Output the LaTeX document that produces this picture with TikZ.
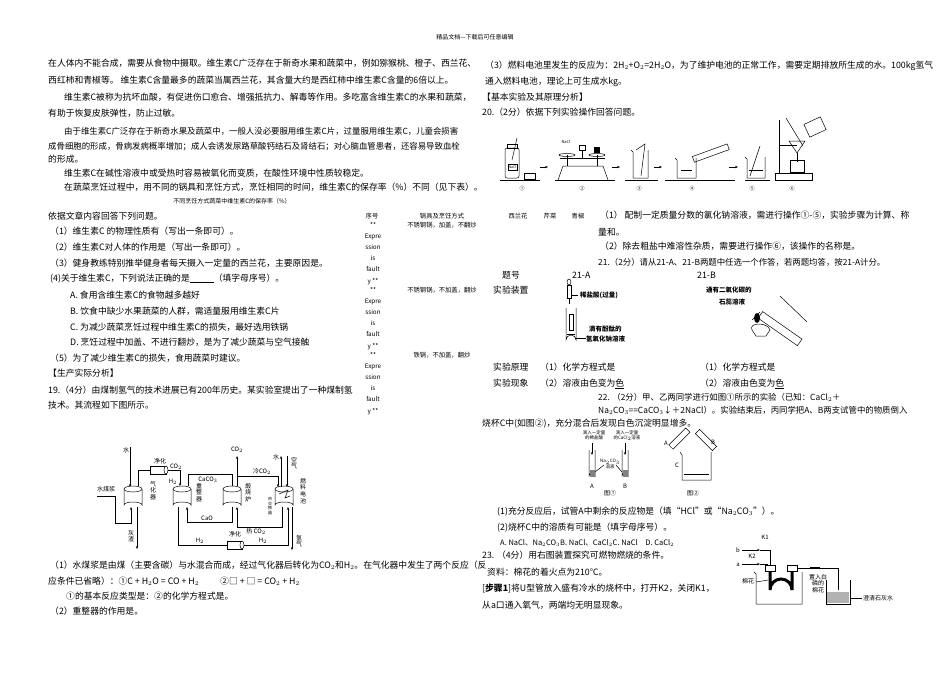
\documentclass[tikz,border=0pt]{standalone}
\usepackage{fontspec}
\setmainfont{Noto Sans CJK SC}
\usetikzlibrary{arrows.meta,shapes.geometric}
\begin{document}
\begin{tikzpicture}[x=1pt,y=-1pt,
 tx/.style={anchor=base west,inner sep=0pt,font=\fontsize{8.8}{10}\selectfont},
 tn/.style={anchor=base west,inner sep=0pt,font=\fontsize{8.4}{10}\selectfont},
 sm/.style={anchor=base,inner sep=0pt,font=\fontsize{6}{7}\selectfont},
 vt/.style={anchor=north,inner sep=0pt,font=\fontsize{6}{6.6}\selectfont,align=center},
 tb/.style={anchor=base,inner sep=0pt,font=\fontsize{6.3}{7}\selectfont},
 ln/.style={line width=0.5pt},
 ar/.style={line width=0.5pt,-{Stealth[length=3pt,width=2.4pt]}},
 gl/.style={line width=0.5pt}]
\useasboundingbox (0,0) rectangle (950,672);
\fill[white] (0,0) rectangle (950,672);
\node[sm] (hd) at (475,39) {精品文档---下载后可任意编辑};
% ---------- left column text
\node[tx] (l1) at (48,66) {在人体内不能合成，需要从食物中摄取。维生素C广泛存在于新奇水果和蔬菜中，例如猕猴桃、橙子、西兰花、};
\node[tx] (l2) at (48,83) {西红柿和青椒等。 维生素C含量最多的蔬菜当属西兰花，其含量大约是西红柿中维生素C含量的6倍以上。};
\node[tx] (l3) at (64,100) {维生素C被称为抗坏血酸，有促进伤口愈合、增强抵抗力、解毒等作用。多吃富含维生素C的水果和蔬菜，};
\node[tx] (l4) at (48,116) {有助于恢复皮肤弹性，防止过敏。};
\node[tn] (l5) at (64,134) {由于维生素C广泛存在于新奇水果及蔬菜中，一般人没必要服用维生素C片，过量服用维生素C，儿童会损害};
\node[tn] (l6) at (48,149) {成骨细胞的形成，骨病发病概率增加；成人会诱发尿路草酸钙结石及肾结石；对心脑血管患者，还容易导致血栓};
\node[tx] (l7) at (48,162) {的形成。};
\node[tx] (l8) at (64,176) {维生素C在碱性溶液中或受热时容易被氧化而变质，在酸性环境中性质较稳定。};
\node[tx] (l9) at (64,190) {在蔬菜烹饪过程中，用不同的锅具和烹饪方式，烹饪相同的时间，维生素C的保存率（\%）不同（见下表）。};
\node[sm] (cap) at (232,203) {不同烹饪方式蔬菜中维生素C的保存率（\%）};
\node[tx] (q0) at (48,219) {依据文章内容回答下列问题。};
\node[tx] (q1) at (50,234) {（1）维生素C 的物理性质有（写出一条即可）。};
\node[tx] (q2) at (50,250) {（2）维生素C对人体的作用是（写出一条即可）。};
\node[tx] (q3) at (50,266) {（3）健身教练特别推举健身者每天摄入一定量的西兰花，主要原因是。};
\node[tx] (q4) at (50,281) {(4)关于维生素C，下列说法正确的是\underline{\hspace{24pt}}（填字母序号）。};
\node[tx] (qa) at (70,298) {A. 食用含维生素C的食物越多越好};
\node[tx] (qb) at (70,314) {B. 饮食中缺少水果蔬菜的人群，需适量服用维生素C片};
\node[tx] (qc) at (70,330) {C. 为减少蔬菜烹饪过程中维生素C的损失，最好选用铁锅};
\node[tx] (qd) at (70,345) {D. 烹饪过程中加盖、不进行翻炒，是为了减少蔬菜与空气接触};
\node[tx] (q5) at (50,361) {（5）为了减少维生素C的损失，食用蔬菜时建议。};
\node[tx] (s1) at (48,376) {【生产实际分析】};
\node[tx] (q19) at (48,393) {19.（4分）由煤制氢气的技术进展已有200年历史。某实验室提出了一种煤制氢};
\node[tx] (q19b) at (48,408) {技术。其流程如下图所示。};
% ---------- table
\node[tb] (th1) at (372,218) {序号};
\node[tb] (th2) at (442,218) {锅具及烹饪方式};
\node[tb] (th3) at (518,218) {西兰花};
\node[tb] (th4) at (550,218) {芹菜};
\node[tb] (th5) at (578,218) {青椒};
\foreach \b/\t in {227/{不锈钢锅，加盖，不翻炒},292/{不锈钢锅，不加盖，翻炒},357/{铁锅，不加盖，翻炒}}{
 \node[tb] at (373,\b) {**};
 \node[tb] at (373,\b+11.2) {Expre};
 \node[tb] at (373,\b+22.4) {ssion};
 \node[tb] at (373,\b+33.6) {is};
 \node[tb] at (373,\b+44.8) {fault};
 \node[tb] at (373,\b+56) {y **};
 \node[tb] at (442,\b) {\t};
}
% ---------- flow diagram
\tikzset{cyl/.pic={\draw[ln,fill=white] (-9,0) -- (-9,16) arc[start angle=180,end angle=360,x radius=9,y radius=3] -- (9,0);
 \draw[ln,fill=white] (0,0) ellipse[x radius=9,y radius=3];}}
\pic at (133,489) {cyl};
\pic at (182,489) {cyl};
\pic at (232,489) {cyl};
\pic at (284,489) {cyl};
\draw[ln] (279,494) -- (288,490) -- (285,498) -- (290,496);
\node[vt] (v1) at (153,481) {气\\化\\器};
\node[vt] (v2) at (199,483) {重\\整\\器};
\node[vt] (v3) at (248,483) {煅\\烧\\炉};
\node[vt] (v4) at (303,478) {燃\\料\\电\\池};
\node[vt,font=\fontsize{4}{4.6}\selectfont] (v5) at (270,497) {热\\交\\换\\器};
\draw[ar] (130,447) -- (130,487);
\node[sm] (w1) at (126,452) {水};
\draw[ar] (97,496) -- (115,496) -- (115,523) -- (131,523) -- (131,507);
\node[sm] (w2) at (106,491) {水煤浆};
\draw[ar] (137,507) -- (137,549);
\node[vt] (w3) at (131,530) {灰\\渣};
\draw[ln] (138,486) -- (138,470) -- (150,470);
\draw[ln,fill=white] (150,466) rectangle (166,474);
\draw[ln,fill=white] (166,470) ellipse[x radius=2,y radius=4];
\node[sm] (w4) at (160,463) {净化};
\node[sm] (w5) at (176,468) {CO$_2$};
\draw[ar] (168,470) -- (180,470) -- (180,486);
\node[sm] (w6) at (173,483) {H$_2$};
\draw[ln] (188,486) -- (188,474) -- (232,474) -- (232,486);
\node[sm] (w7) at (208,481) {CaCO$_3$};
\draw[ar] (232,507) -- (232,522) -- (187,522) -- (187,507);
\node[sm] (w8) at (207,520) {CaO};
\draw[ar] (237,486) -- (237,456);
\node[sm] (w9) at (237,451) {CO$_2$};
\draw[ar] (237,476) -- (278,476) -- (278,487);
\node[sm] (w10) at (262,473) {冷CO$_2$};
\draw[ar] (281,487) -- (281,456);
\node[sm] (w11) at (276,459) {水};
\draw[ar] (287,456) -- (287,487);
\node[vt] (w12) at (294,457) {空\\气};
\draw[ar] (282,507) -- (282,527) -- (237,527) -- (237,507);
\node[sm] (w13) at (256,533) {热 CO$_2$};
\draw[ln] (178,507) -- (178,545) -- (227,545);
\draw[ln,fill=white] (227,541) rectangle (242,549);
\draw[ln,fill=white] (242,545) ellipse[x radius=2,y radius=4];
\node[sm] (w14) at (200,542) {H$_2$};
\node[sm] (w15) at (235,536) {净化};
\node[sm] (w16) at (263,542) {H$_2$};
\draw[ar] (244,545) -- (288,545) -- (288,507);
\draw[ar] (292,507) -- (292,550);
\node[vt] (w17) at (299,535) {氢\\气};
\node[tx] (b1) at (50,568) {（1）水煤浆是由煤（主要含碳）与水混合而成，经过气化器后转化为CO$_2$和H$_2$。在气化器中发生了两个反应（反};
\node[tx] (b2) at (48,584) {应条件已省略）：①C + H$_2$O = CO + H$_2$};
\node[tx] (b3) at (220,584) {②□ + □ = CO$_2$ + H$_2$};
\node[tx] (b4) at (66,599) {①的基本反应类型是：②的化学方程式是。};
\node[tx] (b5) at (50,614) {（2）重整器的作用是。};
% ---------- right column
\node[tx] (r1) at (485,68) {（3）燃料电池里发生的反应为：2H$_2$+O$_2$=2H$_2$O，为了维护电池的正常工作，需要定期排放所生成的水。100kg氢气};
\node[tx] (r2) at (485,84) {通入燃料电池，理论上可生成水kg。};
\node[tx] (r3) at (482,100) {【基本实验及其原理分析】};
\node[tx] (r4) at (482,115) {20.（2分）依据下列实验操作回答问题。};
% experiment figure
\draw[line width=1pt] (500,180) -- (540,180) (555,180) -- (615,180) (625,180) -- (658,180) (665,180) -- (735,180) (745,180) -- (770,180);
\draw[gl,rounded corners=2pt] (505,178) rectangle (519,148); \draw[gl] (507,148) rectangle (517,144);
\draw[gl] (508,170) rectangle (517,164); \node[font=\fontsize{3.5}{4}\selectfont] at (512.5,167.5) {NaCl};
\draw[gl] (512,160) -- (517,138);
\draw[gl] (524,179) rectangle (535,173);
\node[font=\fontsize{5}{5}\selectfont] (n1) at (522,189) {①};
\draw[ar] (540,167) -- (548,167);
\draw[gl] (558,180) -- (563,166) -- (603,166) -- (608,180);
\draw[gl] (560,158) -- (605,158); \draw[gl] (582,158) -- (582,150); \draw[gl] (579,150) rectangle (585,145);
\draw[gl] (567,155) ellipse[x radius=8,y radius=1.5] (597,155) ellipse[x radius=8,y radius=1.5];
\fill (594,153) rectangle (600,147);
\node[font=\fontsize{4}{4}\selectfont] at (566,142) {NaCl};
\draw[gl] (567,155) -- (567,166) (597,155) -- (597,166);
\node[font=\fontsize{5}{5}\selectfont] (n2) at (582,189) {②};
\draw[ar] (612,167) -- (620,167);
\draw[gl] (631,150) -- (633,152) -- (633,178) -- (648,178) -- (648,150);
\draw[gl] (636,150) -- (645,144) -- (641,176);
\node[font=\fontsize{5}{5}\selectfont] (n3) at (639,189) {③};
\draw[ar] (654,167) -- (662,167);
\draw[gl] (675,158) -- (677,160) -- (677,178) -- (696,178) -- (696,158);
\draw[gl] (681,170) -- (692,170);
\draw[gl,rotate around={20:(700,157)}] (693,154) rectangle (730,160);
\node[font=\fontsize{5}{5}\selectfont] (n4) at (692,189) {④};
\draw[ar] (729,167) -- (738,167);
\draw[gl] (745,157) -- (747,159) -- (747,178) -- (765,178) -- (765,157);
\draw[gl] (749,170) -- (763,170); \draw[gl] (750,176) -- (760,146);
\node[font=\fontsize{5}{5}\selectfont] (n5) at (752,189) {⑤};
\draw[gl] (775,180) rectangle (812,173);
\draw[gl] (779,173) -- (779,120); \draw[gl] (779,145) -- (797,145);
\draw[gl] (789,141) -- (805,141) -- (797,153) -- cycle; \draw[gl] (797,153) -- (797,162);
\draw[gl] (790,160) rectangle (804,172);
\draw[gl] (786,118) -- (803,146);
\draw[gl,rotate around={25:(815,127)}] (806,120) rectangle (824,134);
\node[font=\fontsize{5}{5}\selectfont] (n6) at (792,189) {⑥};
\node[tx] (r5) at (600,218) {（1） 配制一定质量分数的氯化钠溶液，需进行操作①-⑤，实验步骤为计算、称};
\node[tx] (r6) at (598,235) {量和。};
\node[tx] (r7) at (600,249) {（2）除去粗盐中难溶性杂质，需要进行操作⑥，该操作的名称是。};
\node[tn] (r8) at (598,265) {21.（2分）请从21-A、21-B两题中任选一个作答，若两题均答，按21-A计分。};
\node[tx] (r9) at (502,278) {题号};
\node[tx] (r10) at (572,278) {21-A};
\node[tx] (r11) at (697,278) {21-B};
\node[tx] (r12) at (493,293) {实验装置};
% 21-A apparatus
\draw[gl] (569,282) ellipse[x radius=2,y radius=3]; \draw[gl] (567,285) rectangle (571,298); \draw[gl] (569,298) -- (569,304);
\draw[gl] (566,308) -- (566,340) arc[start angle=180,end angle=360,radius=5] -- (576,308);
\draw[gl] (569,314) rectangle (573,330);
\draw[gl] (567,334) -- (575,334);
\draw[gl] (572,295) -- (578,295);
\node[tx,font=\fontsize{6.5}{7}\selectfont\bfseries] (a1) at (580,297) {稀盐酸(过量)};
\node[tx,font=\fontsize{6.5}{7}\selectfont\bfseries] (a2) at (589,331) {滴有酚酞的};
\node[tx,font=\fontsize{6.5}{7}\selectfont\bfseries] (a3) at (586,341) {氢氧化钠溶液};
\draw[gl] (576,338) -- (586,338);
% 21-B apparatus
\node[tx,font=\fontsize{6.5}{7}\selectfont\bfseries] (b6) at (706,292) {通有二氧化碳的};
\node[tx,font=\fontsize{6.5}{7}\selectfont\bfseries] (b7) at (719,304) {石蕊溶液};
\draw[gl,rotate around={-35:(762,316)}] (760,312) rectangle (808,320);
\draw[gl] (780,296) -- (807,322);
\draw[gl] (752,320) -- (760,312);
\fill (757,318) ellipse[x radius=3,y radius=5];
\draw[gl] (752,330) .. controls (748,322) and (768,322) .. (770,330) -- (766,336) -- (756,336) -- cycle;
\node[tx] (r13) at (493,370) {实验原理};
\node[tx] (r14) at (540,370) {（1）化学方程式是};
\node[tx] (r15) at (700,370) {（1）化学方程式是};
\node[tx] (r16) at (493,386) {实验现象};
\node[tx] (r17) at (540,386) {（2）溶液由色变为\underline{色}};
\node[tx] (r18) at (700,386) {（2）溶液由色变为\underline{色}};
\node[tn] (r19) at (598,400) {22. （2分）甲、乙两同学进行如图①所示的实验（已知：CaCl$_2$＋};
\node[tn] (r20) at (598,413) {Na$_2$CO$_3$==CaCO$_3$↓＋2NaCl）。实验结束后，丙同学把A、B两支试管中的物质倒入};
\node[tx] (r21) at (482,426) {烧杯C中(如图②)，充分混合后发现白色沉淀明显增多。};
% fig 22
\node[sm,font=\fontsize{4.5}{5}\selectfont,align=center,anchor=north] (c1) at (594,430) {滴入一定量\\的稀盐酸};
\node[sm,font=\fontsize{4.5}{5}\selectfont,align=center,anchor=north] (c2) at (627,430) {滴入一定量\\的CaCl$_2$溶液};
\draw[ar] (592,443) -- (592,455); \draw[ar] (625,443) -- (625,455);
\draw[gl] (589,450) -- (589,476) arc[start angle=180,end angle=360,radius=3] -- (595,450);
\draw[gl] (622,450) -- (622,476) arc[start angle=180,end angle=360,radius=3] -- (628,450);
\fill[gray] (589.5,470) rectangle (594.5,477); \fill[gray] (622.5,470) rectangle (627.5,477);
\node[sm,font=\fontsize{4.5}{5}\selectfont,align=center,anchor=north] (c3) at (610,459) {Na$_2$CO$_3$\\溶液};
\draw[gl] (604,465) -- (595,472); \draw[gl] (616,465) -- (622,472);
\node[sm] (c4) at (592,488) {A}; \node[sm] (c5) at (625,488) {B};
\node[sm] (c6) at (610,495) {图①};
\draw[gl,rotate around={45:(678,440)}] (668,437) rectangle (692,443);
\draw[gl,rotate around={-45:(706,440)}] (694,437) rectangle (718,443);
\node[sm] (c7) at (666,445) {A}; \node[sm] (c8) at (713,444) {B};
\draw[gl] (680,452) -- (682,455) -- (682,480) -- (711,480) -- (711,452);
\draw[gl] (684,474) -- (709,474);
\node[sm] (c9) at (677,467) {C};
\node[sm] (c10) at (693,495) {图②};
\node[tx] (r22) at (497,514) {(1)充分反应后，试管A中剩余的反应物是（填“HCl”或“Na$_2$CO$_3$”）。};
\node[tx] (r23) at (497,530) {(2)烧杯C中的溶质有可能是（填字母序号）。};
\node[tx,font=\fontsize{7.5}{9}\selectfont] (r24) at (500,545) {A. NaCl、Na$_2$CO$_3$B. NaCl、CaCl$_2$C. NaCl\quad D. CaCl$_2$};
\node[tx] (r25) at (482,558) {23. （4分）用右图装置探究可燃物燃烧的条件。};
\node[tx] (r26) at (487,575) {资料：棉花的着火点为210℃。};
\node[tx] (r27) at (482,591) {[\textbf{步骤1}]将U型管放入盛有冷水的烧杯中，打开K2，关闭K1，};
\node[tx] (r28) at (482,608) {从a口通入氧气，两端均无明显现象。};
% fig 23
\node[sm] (d1) at (738,552) {b}; \draw[ar] (742,550) -- (760,550);
\node[sm] (d2) at (738,566) {a}; \draw[ar] (742,564) -- (760,564);
\node[sm] (d3) at (765,539) {K1}; \node[sm] (d4) at (752,558) {K2};
\draw[gl] (760,550) -- (770,550) -- (770,566); \draw[gl] (760,564) -- (768,564);
\draw[gl] (765,565) rectangle (775,571); \draw[gl] (787,565) rectangle (797,571);
\draw[gl] (754,572) -- (756,574) -- (756,604) -- (802,604) -- (802,572);
\draw[line width=3pt] (770,571) -- (770,590) arc[start angle=180,end angle=360,radius=11] -- (792,571);
\draw[gl] (797,568) -- (838,568) -- (838,590);
\draw[line width=1.2pt] (810,568) -- (820,568);
\draw[gl] (826,580) -- (826,604) -- (850,604) -- (850,580);
\fill[gray!60] (827,592) rectangle (849,603);
\node[sm] (d5) at (748,583) {棉花};
\draw[gl] (756,582) -- (768,580);
\node[vt] (d6) at (818,574) {置入白\\磷的\\棉花};
\node[sm] (d7) at (878,600) {澄清石灰水};
\draw[gl] (850,598) -- (862,598);
\end{tikzpicture}
\end{document}
